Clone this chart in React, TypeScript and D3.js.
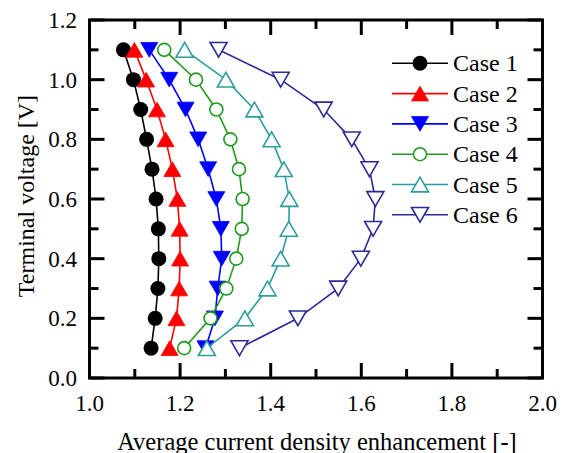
import React from "react";
import * as d3 from "d3";

const voltages = [0.1, 0.2, 0.3, 0.4, 0.5, 0.6, 0.7, 0.8, 0.9, 1.0, 1.1];
const case1 = [1.136, 1.145, 1.151, 1.153, 1.152, 1.147, 1.138, 1.126, 1.113, 1.097, 1.075];
const case2 = [1.177, 1.192, 1.198, 1.200, 1.199, 1.194, 1.183, 1.168, 1.149, 1.125, 1.099];
const case3 = [1.256, 1.277, 1.283, 1.292, 1.290, 1.280, 1.262, 1.240, 1.212, 1.176, 1.132];
const case4 = [1.209, 1.267, 1.302, 1.324, 1.336, 1.338, 1.330, 1.311, 1.280, 1.235, 1.165];
const case5 = [1.259, 1.343, 1.393, 1.422, 1.440, 1.441, 1.429, 1.402, 1.364, 1.301, 1.210];
const case6 = [1.331, 1.460, 1.549, 1.599, 1.626, 1.631, 1.618, 1.579, 1.517, 1.422, 1.285];

const caseNames = ["Case 1", "Case 2", "Case 3", "Case 4", "Case 5", "Case 6"];
const caseValues = [case1, case2, case3, case4, case5, case6];
const caseColors = ["#000000", "#ff0000", "#0000ff", "#209a20", "#2e9d9d", "#2b2b95"];
const caseMarkers = ["circleFilled", "triUpFilled", "triDownFilled", "circleOpen", "triUpOpen", "triDownOpen"];

const xTicks = [1.0, 1.2, 1.4, 1.6, 1.8, 2.0];
const yTicks = [0.0, 0.2, 0.4, 0.6, 0.8, 1.0, 1.2];
const xMinor = [1.1, 1.3, 1.5, 1.7, 1.9];
const yMinor = [0.1, 0.3, 0.5, 0.7, 0.9, 1.1];

const W = 570;
const H = 453;
const L = 89.5, R = 542.5, T = 20, B = 378;
const FONT = "Liberation Serif, Times New Roman, DejaVu Serif, serif";

function Marker({ kind, color, x, y }: { kind: string; color: string; x: number; y: number }) {
  const s = 17;
  const h = s * 0.866;
  if (kind === "circleFilled") return <circle cx={x} cy={y} r={7.5} fill={color} />;
  if (kind === "circleOpen") return <circle cx={x} cy={y} r={6.5} fill="#fff" stroke={color} strokeWidth={1.6} />;
  const up = kind.startsWith("triUp");
  const d = up
    ? `M${x},${y - h / 2}L${x + s / 2},${y + h / 2}L${x - s / 2},${y + h / 2}Z`
    : `M${x},${y + h / 2}L${x + s / 2},${y - h / 2}L${x - s / 2},${y - h / 2}Z`;
  const filled = kind.endsWith("Filled");
  return <path d={d} fill={filled ? color : "#fff"} stroke={color} strokeWidth={filled ? 0.8 : 1.6} strokeLinejoin="miter" />;
}

export default function App() {
  const x = d3.scaleLinear().domain([1.0, 2.0]).range([L, R]);
  const y = d3.scaleLinear().domain([0, 1.2]).range([B, T]);
  const line = d3
    .line<number>()
    .x((d) => x(d))
    .y((_, i) => y(voltages[i]));

  const tickW = 3;
  const major = 15;
  const minor = 9;

  return (
    <svg width={W} height={H} style={{ position: "absolute", left: 0, top: 0, background: "#fff", fontFamily: FONT }}>
      <rect x={0} y={0} width={W} height={H} fill="#fff" />
      <g stroke="#000" strokeWidth={tickW}>
        {xTicks.map((t) => (
          <g key={"xt" + t}>
            <line x1={x(t)} x2={x(t)} y1={B} y2={B - major} />
            <line x1={x(t)} x2={x(t)} y1={T} y2={T + major} />
          </g>
        ))}
        {xMinor.map((t) => (
          <g key={"xm" + t}>
            <line x1={x(t)} x2={x(t)} y1={B} y2={B - minor} />
            <line x1={x(t)} x2={x(t)} y1={T} y2={T + minor} />
          </g>
        ))}
        {yTicks.map((t) => (
          <g key={"yt" + t}>
            <line x1={L} x2={L + major} y1={y(t)} y2={y(t)} />
            <line x1={R} x2={R - major} y1={y(t)} y2={y(t)} />
          </g>
        ))}
        {yMinor.map((t) => (
          <g key={"ym" + t}>
            <line x1={L} x2={L + minor} y1={y(t)} y2={y(t)} />
            <line x1={R} x2={R - minor} y1={y(t)} y2={y(t)} />
          </g>
        ))}
      </g>
      {caseValues.map((vals, ci) => (
        <g key={"s" + ci}>
          <path d={line(vals) || ""} fill="none" stroke={caseColors[ci]} strokeWidth={1.6} />
          {vals.map((v, i) => (
            <Marker key={i} kind={caseMarkers[ci]} color={caseColors[ci]} x={x(v)} y={y(voltages[i])} />
          ))}
        </g>
      ))}
      <rect x={L} y={T} width={R - L} height={B - T} fill="none" stroke="#000" strokeWidth={3} />
      <g fontSize={23} fill="#000">
        {xTicks.map((t) => (
          <text key={"xl" + t} x={x(t)} y={411} textAnchor="middle" style={{ fontFamily: FONT }}>
            {t.toFixed(1)}
          </text>
        ))}
        {yTicks.map((t) => (
          <text key={"yl" + t} x={77} y={y(t) + 8} textAnchor="end" style={{ fontFamily: FONT }}>
            {t.toFixed(1)}
          </text>
        ))}
      </g>
      <text x={317} y={449.5} textAnchor="middle" fontSize={24.5} style={{ fontFamily: FONT }}>
        Average current density enhancement [-]
      </text>
      <text transform={`translate(34,${(T + B) / 2 - 3}) rotate(-90)`} textAnchor="middle" fontSize={24} style={{ fontFamily: FONT }}>
        Terminal voltage [V]
      </text>
      {caseNames.map((n, i) => {
        const ly = 63.3 + i * 30.3;
        return (
          <g key={"lg" + i}>
            <line x1={392} x2={448} y1={ly} y2={ly} stroke={caseColors[i]} strokeWidth={1.6} />
            <Marker kind={caseMarkers[i]} color={caseColors[i]} x={420} y={ly} />
            <text x={453} y={ly + 8} fontSize={24} style={{ fontFamily: FONT }}>
              {n}
            </text>
          </g>
        );
      })}
    </svg>
  );
}
